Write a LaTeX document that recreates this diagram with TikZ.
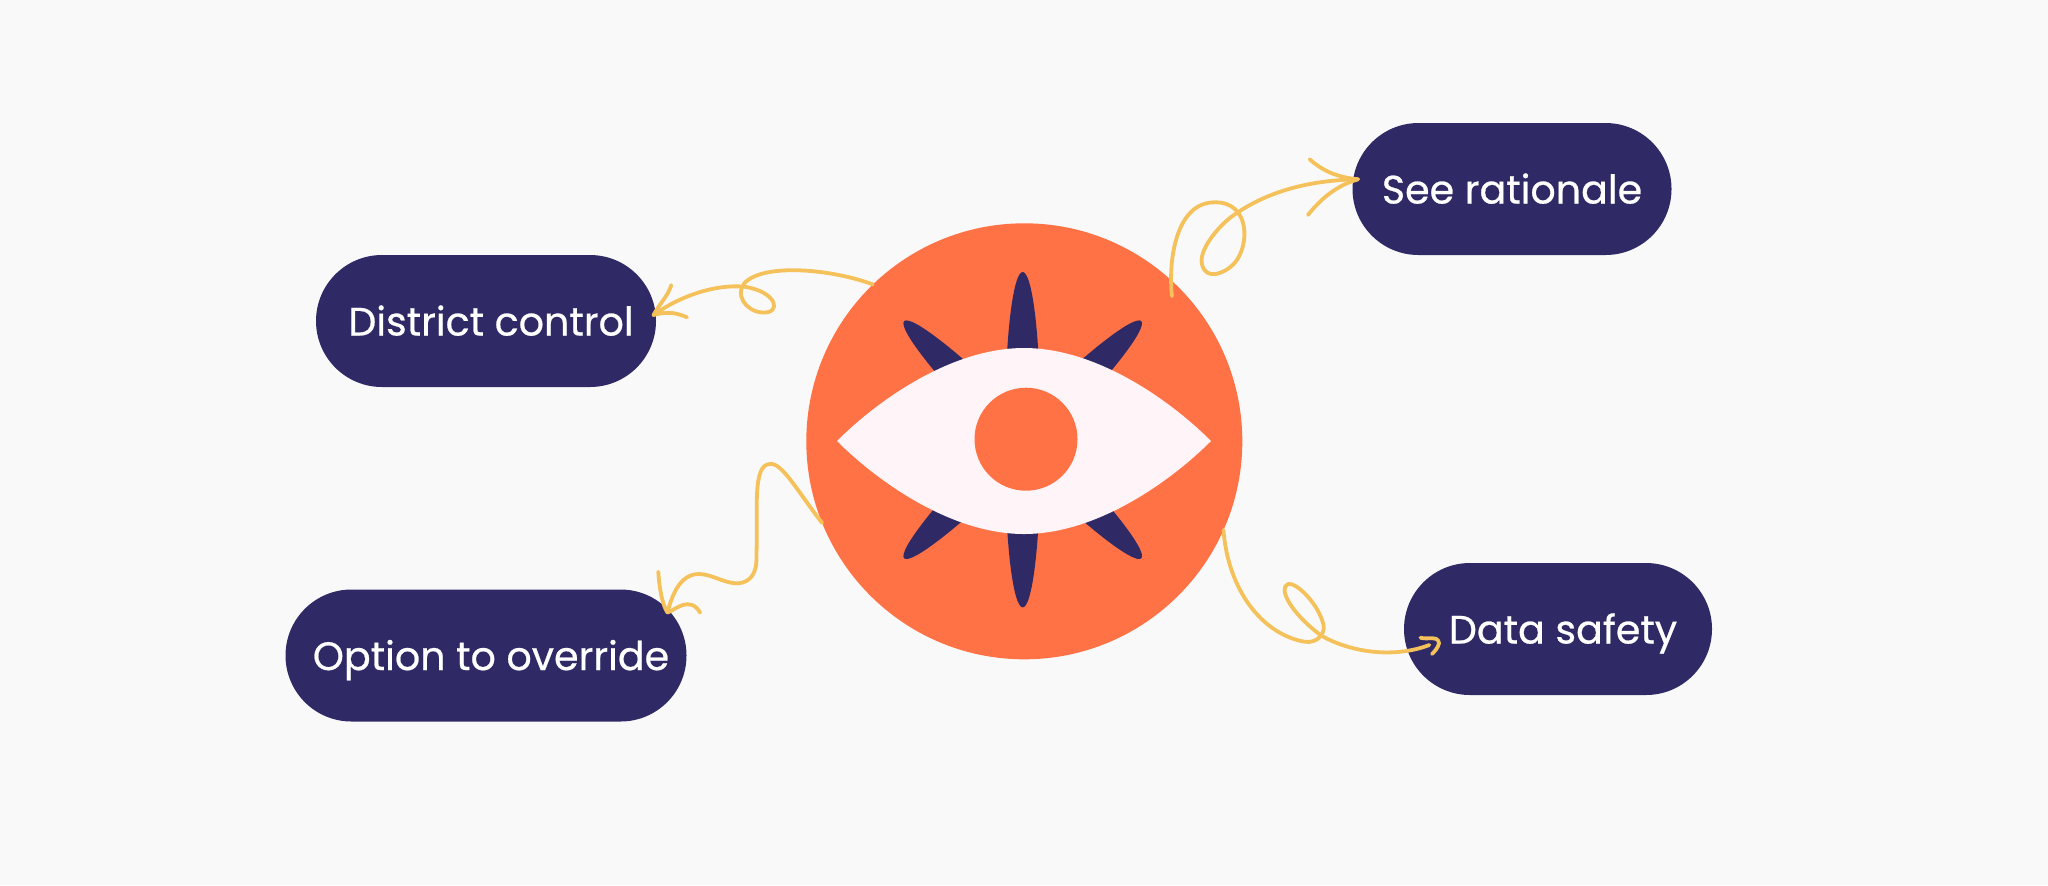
\documentclass[tikz,border=0pt]{standalone}
\usepackage{fontspec}
\setmainfont{Poppins}[FakeBold=0.6]
\usetikzlibrary{positioning}
\usetikzlibrary{shapes}
\definecolor{pagegrey}{HTML}{F9F9F9}
\definecolor{inkpurple}{HTML}{2F2A66}
\definecolor{sunorange}{HTML}{FF7246}
\definecolor{eyewhite}{HTML}{FFF5F8}
\definecolor{scribbleyellow}{HTML}{F5C15A}

\begin{document}
\begin{tikzpicture}[x=0.5pt,y=-0.5pt,
					pillbox/.style={rounded rectangle,
									inner sep=0mm,outer sep=0,
									fill=inkpurple,
									text=white,
									minimum height=66pt,
									text height=14.5pt,
									text depth=0pt,
									font=\fontsize{19.8}{24}\selectfont
									},
					pillnudge/.style={
									execute at begin node=\hspace*{5pt}
									},
					scribble/.style={
									line width=1.9pt,
									draw=scribbleyellow,
									line cap=round,
									line join=round
									}
					]
\path[use as bounding box,fill=pagegrey] (0,0) rectangle (2048,885);
\node[circle,inner sep=0mm,outer sep=0,fill=sunorange,minimum width=218pt] (disc) at (1024.3,441.3) { };
\foreach \petalangle in {0,45,90,135} {
	\fill[inkpurple,shift={(1022.7,439.7)},rotate=\petalangle]
		(0,-167.7) .. controls (9,-167.7) and (18,-110) .. (18,0)
		.. controls (18,110) and (9,167.7) .. (0,167.7)
		.. controls (-9,167.7) and (-18,110) .. (-18,0)
		.. controls (-18,-110) and (-9,-167.7) .. (0,-167.7);
}
\fill[eyewhite] (837,441) .. controls (876,402) and (950,348) .. (1024,348)
	.. controls (1098,348) and (1172,402) .. (1211,441)
	.. controls (1172,480) and (1098,534) .. (1024,534)
	.. controls (950,534) and (876,480) .. (837,441);
\node[circle,inner sep=0mm,outer sep=0,fill=sunorange,minimum width=51.5pt] (pupil) at (1026,439.2) { };

\node[pillbox,pillnudge,minimum width=170pt] (district) at (486,321) {District control};
\node[pillbox,pillnudge,minimum width=200.5pt] (override) at (486,655.5) {Option to override};
\node[pillbox,minimum width=159.5pt] (rationale) at (1512,189) {See rationale};
\node[pillbox,pillnudge,minimum width=154pt] (safety) at (1558,629) {Data safety};

\coordinate (districttip) at ([shift={(-2.5,-6)}]district.east);
\coordinate (overridetip) at ([shift={(-19,-43)}]override.east);
\coordinate (rationaletip) at ([shift={(5.5,-9.7)}]rationale.west);
\coordinate (safetytip) at ([shift={(25.3,16)}]safety.west);
\coordinate (rationalestart) at ([shift={(-6.5,9)}]disc.45);

\draw[scribble] (disc.134) .. controls (835,270) and (765,262) .. (744.5,283)
	.. controls (735,294) and (745,311) .. (762,312.5)
	.. controls (782,314) and (778,292) .. (744.5,286.7)
	.. controls (715,284) and (680,296) .. (districttip);
\draw[scribble] (districttip) .. controls (660,303) and (668,296) .. (671.3,285);
\draw[scribble] (districttip) .. controls (668,311) and (677,313) .. (687,317.3);

\draw[scribble] (disc.202) .. controls (800,495) and (782,462) .. (770.2,464)
	.. controls (752,464) and (758,510) .. (756.4,556.7)
	.. controls (757,574) and (750,582) .. (738.6,583.3)
	.. controls (725,584) and (712,574) .. (699,574)
	.. controls (680,574) and (672,595) .. (overridetip);
\draw[scribble] (overridetip) .. controls (662,605) and (659,585) .. (658.3,571.7);
\draw[scribble] (overridetip) .. controls (675,610) and (690,595) .. (700.2,612.7);

\draw[scribble] (rationalestart) .. controls (1168,260) and (1176,202) .. (1215,202.3)
	.. controls (1250,202) and (1250,245) .. (1234.6,263)
	.. controls (1226,273) and (1205,282) .. (1201.8,263.3)
	.. controls (1199,248) and (1222,222) .. (1236.4,213.3)
	.. controls (1275,187) and (1320,180) .. (rationaletip);
\draw[scribble] (rationaletip) .. controls (1335,177) and (1322,170) .. (1309.6,159.3);
\draw[scribble] (rationaletip) .. controls (1335,186) and (1320,200) .. (1307.9,215);

\draw[scribble] (disc.-24) .. controls (1228,590) and (1262,634) .. (1304.3,641.7)
	.. controls (1318,644) and (1328,632) .. (1322,620)
	.. controls (1316,602) and (1296,582) .. (1288,584)
	.. controls (1278,588) and (1290,612) .. (1320.4,635)
	.. controls (1345,650) and (1390,660) .. (safetytip);
\draw[scribble] (1420.4,637.7) .. controls (1428,640) and (1438,635) .. (1439,643.3)
	.. controls (1438,648) and (1434,652) .. (1432,654);
\end{tikzpicture}
\end{document}
